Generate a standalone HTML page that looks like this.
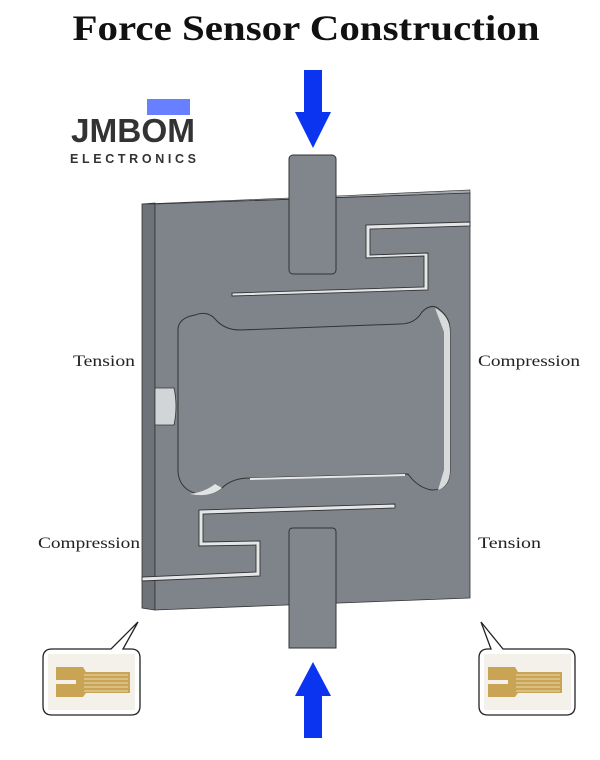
<!DOCTYPE html>
<html><head><meta charset="utf-8"><style>
html,body{margin:0;padding:0;background:#fff;}
svg{display:block;}
</style></head><body>
<svg width="600" height="760" viewBox="0 0 600 760" xmlns="http://www.w3.org/2000/svg">
<rect width="600" height="760" fill="#fff"/>
<text x="306" y="40" text-anchor="middle" font-family="Liberation Serif, serif" font-weight="bold" font-size="36" textLength="467" lengthAdjust="spacingAndGlyphs" fill="#111">Force Sensor Construction</text>
<rect x="147" y="99" width="43" height="16" fill="#6680ff"/>
<text x="71" y="142" font-family="Liberation Sans, sans-serif" font-weight="bold" font-size="33" textLength="124" lengthAdjust="spacingAndGlyphs" fill="#333">JMBOM</text>
<text x="70" y="163" font-family="Liberation Sans, sans-serif" font-weight="bold" font-size="12.5" textLength="126" lengthAdjust="spacing" fill="#333">ELECTRONICS</text>
<polygon points="304,70 322,70 322,112 331,112 313,148 295,112 304,112" fill="#0a34f0"/>
<polygon points="313,662 331,696 322,696 322,738 304,738 304,696 295,696" fill="#0a34f0"/>
<polygon points="142,204 155,203 155,610 142,608" fill="#6d7379" stroke="#333" stroke-width="0.8"/>
<polygon points="142,204 289,198 336,196 470,190 470,193 155,204" fill="#a4a9ae" stroke="#333" stroke-width="0.6"/>
<polygon points="155,204 470,193 470,598 155,610" fill="#7e848a" stroke="#333" stroke-width="0.8"/>
<path d="M195,315 Q208,310 216,320 Q225,330 240,330 L400,324 Q415,324 422,312 Q432,302 440,310 Q450,318 450,330 L450,470 Q450,490 432,490 Q418,488 408,474 L250,478 Q232,478 222,488 Q205,500 188,490 Q178,483 178,470 L178,330 Q178,318 195,315 Z" fill="#80868c" stroke="#333" stroke-width="1"/>
<path d="M435,308 Q450,316 450,332 L450,470 Q450,486 438,490 L444,470 L444,332 Z" fill="#d8dadc"/>
<path d="M190,494 Q205,492 215,484 L222,488 Q210,498 190,494 Z" fill="#e0e2e4"/>
<path d="M405,474 L250,478 L250,480 L405,476 Z" fill="#e6e8ea"/>
<path d="M155,388 L174,388 Q178,406 174,425 L155,425 Z" fill="#d2d5d8" stroke="#333" stroke-width="0.8"/>
<path d="M470,222 L366,225 L366,258 L424,256 L424,287 L232,293 L232,296 L428,290 L428,253 L370,255 L370,229 L470,226 Z" fill="#e4e6e8" stroke="#333" stroke-width="0.9"/>
<path d="M395,504 L199,510 L199,546 L256,545 L256,572 L142,577 L142,581 L260,576 L260,541 L203,542 L203,514 L395,508 Z" fill="#e4e6e8" stroke="#333" stroke-width="0.9"/>
<rect x="289" y="155" width="47" height="119" rx="4" fill="#80868c" stroke="#333" stroke-width="1"/>
<path d="M289,648 L289,532 Q289,528 293,528 L332,528 Q336,528 336,532 L336,648 Z" fill="#80868c" stroke="#333" stroke-width="1"/>
<g font-family="Liberation Serif, serif" font-size="16" fill="#222">
<text x="73" y="366" textLength="62" lengthAdjust="spacingAndGlyphs">Tension</text>
<text x="478" y="366" textLength="102" lengthAdjust="spacingAndGlyphs">Compression</text>
<text x="38" y="548" textLength="102" lengthAdjust="spacingAndGlyphs">Compression</text>
<text x="478" y="548" textLength="63" lengthAdjust="spacingAndGlyphs">Tension</text>
</g>
<path d="M52,649 L111,649 L138,622 L123,649 L131,649 Q140,649 140,658 L140,706 Q140,715 131,715 L52,715 Q43,715 43,706 L43,658 Q43,649 52,649 Z" fill="#fff" stroke="#222" stroke-width="1.3"/>
<rect x="48" y="654" width="87" height="56" fill="#f3f1ea"/>
<path d="M56,667 L83,667 L86,672 L130,672 L130,693 L86,693 L83,697 L56,697 L56,684 L76,684 L76,680 L56,680 Z" fill="#c9a455"/>
<g stroke="#f5ecd0" stroke-width="0.8"><line x1="84" y1="675" x2="128" y2="675"/><line x1="84" y1="679" x2="128" y2="679"/><line x1="84" y1="683" x2="128" y2="683"/><line x1="84" y1="687" x2="128" y2="687"/><line x1="84" y1="691" x2="128" y2="691"/></g>
<path d="M488,649 L491,649 L481,622 L503,649 L566,649 Q575,649 575,658 L575,706 Q575,715 566,715 L488,715 Q479,715 479,706 L479,658 Q479,649 488,649 Z" fill="#fff" stroke="#222" stroke-width="1.3"/>
<rect x="484" y="654" width="87" height="56" fill="#f3f1ea"/>
<path d="M488,667 L515,667 L518,672 L562,672 L562,693 L518,693 L515,697 L488,697 L488,684 L508,684 L508,680 L488,680 Z" fill="#c9a455"/>
<g stroke="#f5ecd0" stroke-width="0.8"><line x1="516" y1="675" x2="560" y2="675"/><line x1="516" y1="679" x2="560" y2="679"/><line x1="516" y1="683" x2="560" y2="683"/><line x1="516" y1="687" x2="560" y2="687"/><line x1="516" y1="691" x2="560" y2="691"/></g>
</svg>
</body></html>
